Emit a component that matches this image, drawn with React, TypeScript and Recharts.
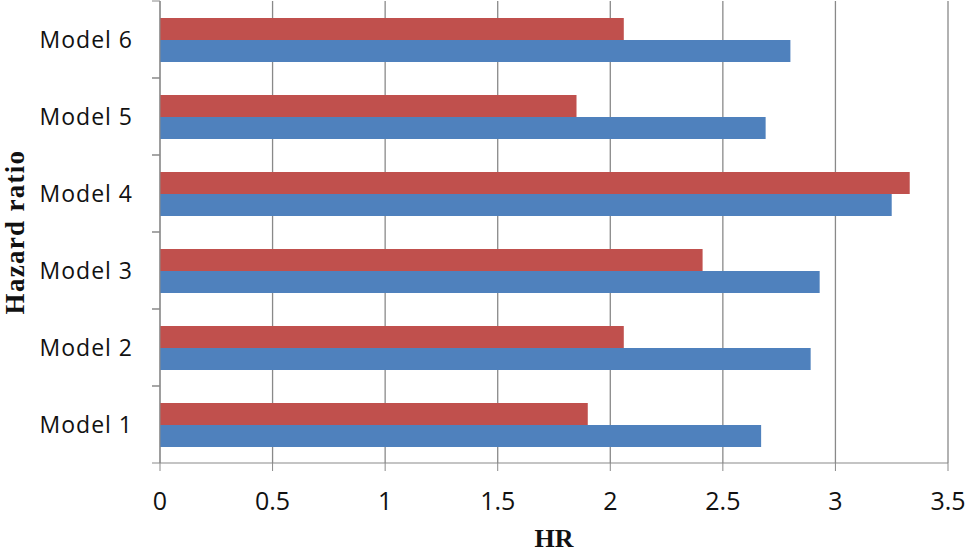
import { BarChart, Bar, XAxis, YAxis, CartesianGrid } from "recharts";

// bottom to top
const categories = ["Model 1", "Model 2", "Model 3", "Model 4", "Model 5", "Model 6"];
const blueValues = [2.67, 2.89, 2.93, 3.25, 2.69, 2.8];
const redValues = [1.9, 2.06, 2.41, 3.33, 1.85, 2.06];
const xTicks = [0, 0.5, 1, 1.5, 2, 2.5, 3, 3.5];

const data = categories.map((name, i) => ({
  name,
  blue: blueValues[i],
  red: redValues[i],
}));

const AXIS = "#898989";

const CategoryTick = (props: any) => {
  const { x, y, payload } = props;
  const half = payload.offset || 0;
  const axisX = x + 27;
  return (
    <g>
      <line x1={axisX - 8} x2={axisX} y1={y - half} y2={y - half} stroke={AXIS} />
      <line x1={axisX - 8} x2={axisX} y1={y + half} y2={y + half} stroke={AXIS} />
      <text
        x={x}
        y={y}
        dy={8}
        textAnchor="end"
        fontFamily="'Open Sans', sans-serif"
        fontSize={23}
        letterSpacing={1}
        fill="#111"
      >
        {payload.value}
      </text>
    </g>
  );
};

export default function App() {
  return (
    <div style={{ position: "absolute", left: 0, top: 0, background: "#fff" }}>
      <BarChart
        width={967}
        height={552}
        data={data}
        layout="vertical"
        margin={{ top: 1, right: 19, bottom: 0, left: 0 }}
        barGap={0}
      >
        <CartesianGrid horizontal={false} stroke={AXIS} strokeWidth={1.3} />
        <XAxis
          type="number"
          domain={[0, 3.5]}
          ticks={xTicks}
          tickFormatter={(v) => String(v)}
          stroke={AXIS}
          tickSize={8}
          tickMargin={21}
          height={89}
          tick={{ fontFamily: "'Open Sans', sans-serif", fontSize: 25, fill: "#111" }}
          label={{
            content: ({ viewBox }: any) => (
              <text
                x={viewBox.x + viewBox.width / 2}
                y={viewBox.y + 84}
                textAnchor="middle"
                fontFamily="'Liberation Serif', serif"
                fontWeight="bold"
                fontSize={26}
                fill="#111"
              >
                HR
              </text>
            ),
          }}
        />
        <YAxis
          type="category"
          dataKey="name"
          reversed
          width={160}
          stroke={AXIS}
          tickLine={false}
          tickSize={8}
          tickMargin={19}
          tick={<CategoryTick />}
          label={{
            content: ({ viewBox }: any) => {
              const cx = 24;
              const cy = viewBox.y + viewBox.height / 2;
              return (
                <text
                  x={cx}
                  y={cy}
                  textAnchor="middle"
                  transform={`rotate(-90 ${cx} ${cy})`}
                  fontFamily="'Liberation Serif', serif"
                  fontWeight="bold"
                  fontSize={27}
                  letterSpacing={1.3}
                  fill="#111"
                >
                  Hazard ratio
                </text>
              );
            },
          }}
        />
        <Bar dataKey="red" fill="#C0504D" barSize={22} isAnimationActive={false} />
        <Bar dataKey="blue" fill="#4F81BD" barSize={22} isAnimationActive={false} />
      </BarChart>
    </div>
  );
}
